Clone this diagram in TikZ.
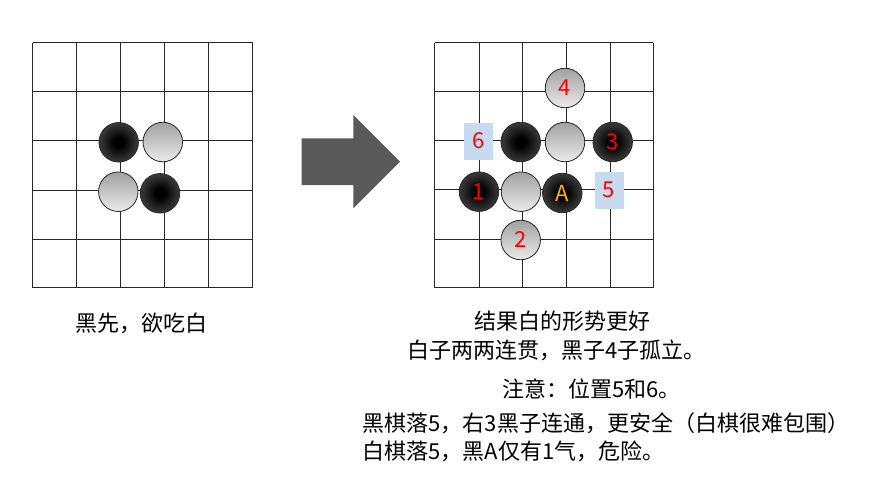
\documentclass[tikz,border=0pt]{standalone}
\usepackage{fontspec}
\usepackage{xcolor}
\usepackage{tikz}
\setmainfont{Noto Sans CJK SC}
\definecolor{arrowgray}{HTML}{595959}
\definecolor{markblue}{HTML}{C6DAF0}
\definecolor{labelA}{HTML}{FFB000}
\pgfdeclareradialshading{stoneshade}{\pgfpoint{0bp}{0bp}}{color(0bp)=(black); color(6bp)=(black); color(26bp)=(black!76); color(50bp)=(black!64)}
\tikzset{
    blackstone/.style={circle, draw=black!85, line width=0.8pt, minimum size=39.5pt, inner sep=0pt,
        shading=stoneshade, text=red},
    whitestone/.style={circle, draw=black!85, line width=0.8pt, minimum size=39.5pt, inner sep=0pt,
        top color=black!37, bottom color=black!8, text=red},
    markbox/.style={fill=markblue, minimum width=29pt, minimum height=37pt, inner sep=0pt, text=red},
    caption/.style={font=\fontsize{22}{28}\selectfont, inner sep=0pt}
}

\begin{document}
\begin{tikzpicture}[x=1pt, y=-1pt]
        \useasboundingbox (0, 0) rectangle (871, 479);

        % left board
        \foreach \gx in {32.7, 76.7, 120.7, 164.7, 208.5, 252.7}
            \draw[line width=0.8pt, black!85] (\gx, 42.7) -- (\gx, 287.5);
        \foreach \gy in {42.7, 91.7, 140.5, 190, 239, 287.5}
            \draw[line width=0.8pt, black!85] (32.7, \gy) -- (252.7, \gy);

        \node (lb1) at (118.7, 142.3) [blackstone] {};
        \node (lw1) at (162.8, 142) [whitestone] {};
        \node (lw2) at (118.3, 191.7) [whitestone] {};
        \node (lb2) at (160, 193.3) [blackstone] {};

        \node (ltext) at (141.5, 323) [caption] {黑先，欲吃白};

        % arrow
        \fill[arrowgray] (301.7, 138.3) -- (353.3, 138.3) -- (353.3, 115) -- (400, 161.7)
            -- (353.3, 208.3) -- (353.3, 185) -- (301.7, 185) -- cycle;

        % right board
        \foreach \gx in {434.7, 479.3, 522.3, 566.7, 610.3, 653.3}
            \draw[line width=0.8pt, black!85] (\gx, 42.7) -- (\gx, 287.5);
        \foreach \gy in {42.7, 91.7, 140.5, 189.5, 239, 287.5}
            \draw[line width=0.8pt, black!85] (434.7, \gy) -- (653.3, \gy);

        \node (m6) at (478.7, 141) [markbox, caption] {6};
        \node (m5) at (609, 190) [markbox, caption] {5};

        \node (rw4) at (565, 88) [whitestone, caption] {4};
        \node (rb0) at (520.7, 142) [blackstone] {};
        \node (rw0) at (565, 142) [whitestone] {};
        \node (rb3) at (612.7, 142) [blackstone, caption] {3};
        \node (rb1) at (479, 191.7) [blackstone, caption] {1};
        \node (rw1) at (521, 191.7) [whitestone] {};
        \node (rbA) at (562.3, 193) [blackstone, caption, text=labelA] {A};
        \node (rw2) at (520.7, 240) [whitestone, caption] {2};

        % notes
        \node (r1) at (562, 321.5) [caption] {结果白的形势更好};
        \node (r2) at (556.5, 350) [caption] {白子两两连贯，黑子4子孤立。};
        \node (r3) at (591.5, 389.5) [caption] {注意：位置5和6。};
        \node (r4) at (362.5, 423) [caption, anchor=west] {黑棋落5，右3黑子连通，更安全（白棋很难包围）};
        \node (r5) at (362.5, 451.5) [caption, anchor=west] {白棋落5，黑A仅有1气，危险。};
    \end{tikzpicture}
\end{document}
